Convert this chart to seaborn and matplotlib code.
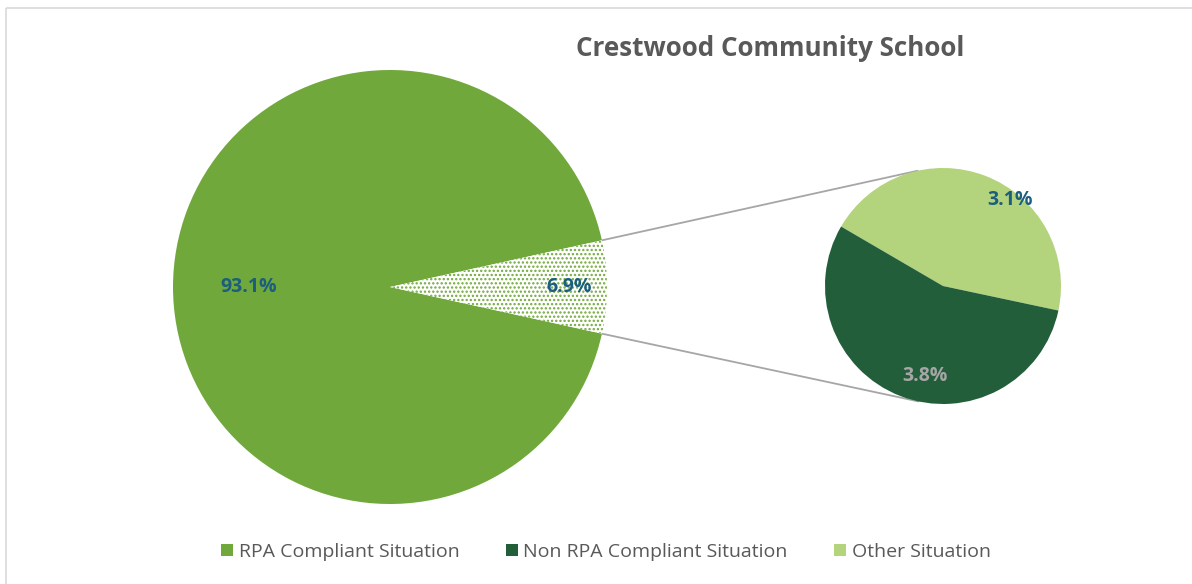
import numpy as np
import matplotlib
matplotlib.use("Agg")
import matplotlib.pyplot as plt
from matplotlib.patches import Patch
import seaborn as sns

# ---- data ----
title = "Crestwood Community School"
main_labels = ["RPA Compliant Situation", "Grouped (Other)"]
main_values = [93.1, 6.9]
sub_labels = ["Other Situation", "Non RPA Compliant Situation"]
sub_values = [3.1, 3.8]
legend_labels = ["RPA Compliant Situation", "Non RPA Compliant Situation", "Other Situation"]

# ---- style ----
sns.set_theme(style="white")
plt.rcParams['font.family'] = ['Open Sans', 'DejaVu Sans']
plt.rcParams['hatch.linewidth'] = 1.1

C_MAIN = "#70A83B"
C_DARK = "#235E3B"
C_LIGHT = "#B4D37D"
C_TEAL = "#1B5E7E"
C_GRAY = "#A6A6A6"
C_TXT = "#595959"

W, H = 1192, 584
fig = plt.figure(figsize=(W / 100, H / 100), dpi=100)
ax = fig.add_axes([0, 0, 1, 1])

# main pie
c1 = (390, H - 287)
r1 = 217
half = main_values[1] / sum(main_values) * 360 / 2
wedges1, _ = ax.pie(main_values, center=c1, radius=r1, startangle=half,
                    counterclock=True, colors=[C_MAIN, "white"],
                    wedgeprops=dict(linewidth=0), frame=True)
wedges1[1].set_hatch("....")
wedges1[1].set_edgecolor(C_MAIN)
wedges1[1].set_linewidth(0)

# secondary pie
c2 = (943, H - 286)
r2 = 118
sub_start = -12
wedges2, _ = ax.pie(sub_values, center=c2, radius=r2, startangle=sub_start,
                    counterclock=True, colors=[C_LIGHT, C_DARK],
                    wedgeprops=dict(linewidth=0), frame=True)
ax.set_xlim(0, W)
ax.set_ylim(0, H)
ax.set_aspect("equal")
ax.axis("off")

# border (top + left)
ax.plot([6, W], [H - 8, H - 8], color="#D9D9D9", lw=1.2, solid_capstyle="butt")
ax.plot([6, 6], [0, H - 8], color="#D9D9D9", lw=1.2, solid_capstyle="butt")

# connector lines (tangent from wedge ends to secondary pie)
def tangent_point(p, c, r, upper):
    p = np.array(p, float); c = np.array(c, float)
    d = c - p
    dist = np.hypot(*d)
    base = np.degrees(np.arctan2(d[1], d[0]))
    off = np.degrees(np.arcsin(r / dist))
    ang = base + off + 90 if upper else base - off - 90
    a = np.radians(ang)
    return c + r * np.array([np.cos(a), np.sin(a)])

for sign, upper in [(1, True), (-1, False)]:
    a = np.radians(sign * half)
    p = (c1[0] + r1 * np.cos(a), c1[1] + r1 * np.sin(a))
    t = tangent_point(p, c2, r2, upper)
    ax.plot([p[0], t[0]], [p[1], t[1]], color="#A6A6A6", lw=1.3, zorder=0.5)

# labels
lab_kw = dict(ha="center", va="center", fontsize=14, fontweight="bold")
ax.text(249, H - 287, f"{main_values[0]}%", color=C_TEAL, **lab_kw)
ax.text(569, H - 287, f"{main_values[1]}%", color=C_TEAL, **lab_kw)
ax.text(1010, H - 200, f"{sub_values[0]}%", color=C_TEAL, **lab_kw)
ax.text(925, H - 376, f"{sub_values[1]}%", color=C_GRAY, **lab_kw)

# title
ax.text(770, H - 48, title, ha="center", va="center", fontsize=18.7,
        fontweight="bold", color=C_TXT)

# legend
handles = [Patch(facecolor=c, edgecolor="none") for c in [C_MAIN, C_DARK, C_LIGHT]]
fig.legend(handles, legend_labels, loc="center", bbox_to_anchor=(606 / W, 1 - 552 / H),
           ncol=3, frameon=False, fontsize=14, handlelength=0.6, handleheight=0.6,
           handletextpad=0.3, columnspacing=2.4, labelcolor=C_TXT)

fig.savefig("out.png", dpi=100)
